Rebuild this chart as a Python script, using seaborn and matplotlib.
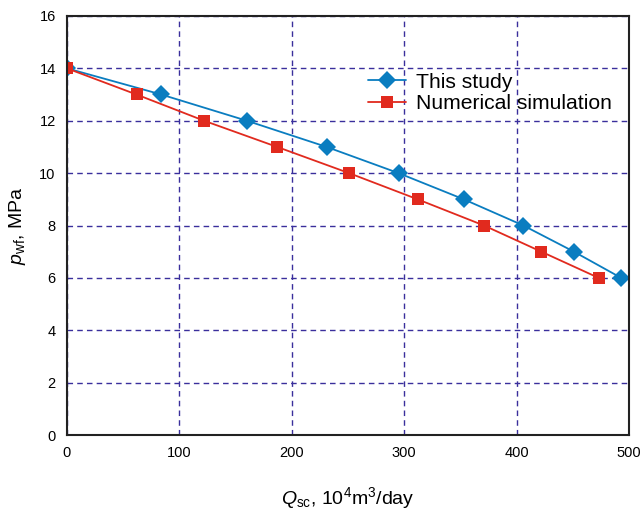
import pandas as pd
import matplotlib
matplotlib.use("Agg")
import matplotlib.pyplot as plt
import seaborn as sns

# Datos
q_estudio = [0, 84, 160, 231, 295, 353, 406, 451, 493]
p_estudio = [14, 13, 12, 11, 10, 9, 8, 7, 6]
q_simulacion = [0, 62, 122, 187, 251, 312, 371, 422, 473]
p_simulacion = [14, 13, 12, 11, 10, 9, 8, 7, 6]
series = ["This study", "Numerical simulation"]

df = pd.concat([
    pd.DataFrame({"q": q_estudio, "p": p_estudio, "serie": series[0]}),
    pd.DataFrame({"q": q_simulacion, "p": p_simulacion, "serie": series[1]}),
], ignore_index=True)

sns.set_style("white")
plt.rcParams["font.family"] = ["Liberation Sans", "DejaVu Sans"]
plt.rcParams["mathtext.fontset"] = "custom"
plt.rcParams["mathtext.rm"] = "Liberation Sans"
plt.rcParams["mathtext.it"] = "Liberation Sans:italic"
plt.rcParams["text.color"] = "black"
plt.rcParams["axes.labelcolor"] = "black"

fig = plt.figure(figsize=(6.42, 5.12), dpi=100)
ax = fig.add_axes([0.104, 0.15, 0.876, 0.819])

sns.lineplot(data=df, x="q", y="p", hue="serie", style="serie", sort=False,
             palette={series[0]: "#0a7dc0", series[1]: "#e12a1e"},
             markers={series[0]: "D", series[1]: "s"}, dashes=False,
             markersize=9, markeredgewidth=0, linewidth=1.3, ax=ax)

ax.set_xlim(0, 500)
ax.set_ylim(0, 16)
ax.set_xticks(range(0, 501, 100))
ax.set_yticks(range(0, 17, 2))
ax.grid(True, color="#3a2f9c", linestyle=(0, (4, 3)), linewidth=1.0)
ax.set_axisbelow(True)
ax.tick_params(direction="in", length=8, width=1.2, labelsize=10.5, colors="black", pad=8)
for s in ax.spines.values():
    s.set_color("#222222")
    s.set_linewidth(1.5)

ax.set_xlabel(r"$Q_{\rm sc}$, 10$^4$m$^3$/day", fontsize=14, labelpad=18)
ax.set_ylabel(r"$p_{\rm wf}$, MPa", fontsize=14, labelpad=8)

ax.legend(loc="upper left", bbox_to_anchor=(0.52, 0.885), frameon=False,
          fontsize=15.2, handlelength=1.8, labelspacing=0.12, handletextpad=0.5,
          borderaxespad=0)

fig.savefig("out.png", dpi=100)
